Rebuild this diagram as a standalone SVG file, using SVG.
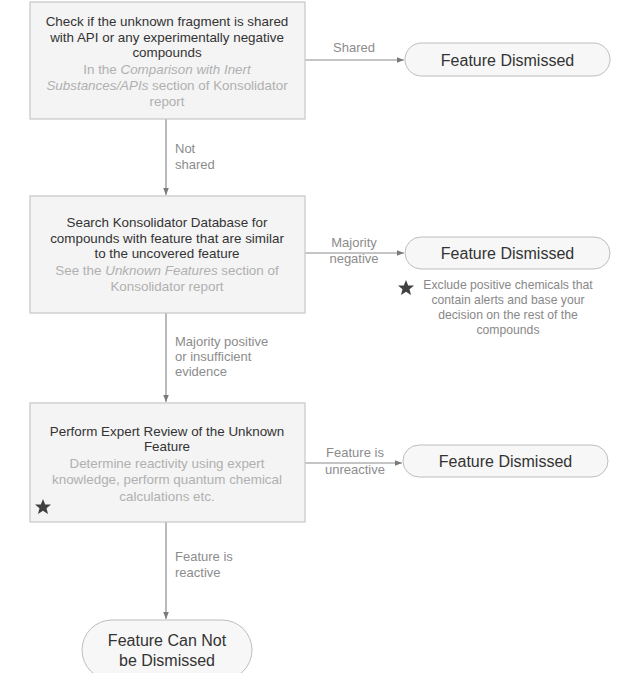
<svg xmlns="http://www.w3.org/2000/svg" width="618" height="673" viewBox="0 0 618 673">
<style>
.box{fill:#f4f4f4;stroke:#c6c6c6;stroke-width:1.2}
.pill{fill:#f7f7f7;stroke:#bdbdbd;stroke-width:1}
.t{font-family:"Liberation Sans",Arial,sans-serif;font-size:13.4px;fill:#333;text-anchor:middle}
.s{font-family:"Liberation Sans",Arial,sans-serif;font-size:13.4px;fill:#b0b0b0;text-anchor:middle}
.p{font-family:"Liberation Sans",Arial,sans-serif;font-size:16px;fill:#333;text-anchor:middle}
.l{font-family:"Liberation Sans",Arial,sans-serif;font-size:13px;fill:#8c8c8c}
.lc{text-anchor:middle}
.n{font-family:"Liberation Sans",Arial,sans-serif;font-size:12.2px;fill:#888;text-anchor:middle}
.c{stroke:#8c8c8c;stroke-width:1.2;fill:none;marker-end:url(#ah)}
.star{fill:#404040}
</style>
<defs>
<marker id="ah" viewBox="0 0 10 10" refX="10" refY="5" markerWidth="7" markerHeight="7" orient="auto" markerUnits="userSpaceOnUse">
<path d="M0,1 L10,5 L0,9 z" fill="#7a7a7a"/>
</marker>
<path id="starShape" d="M0,-8 L2.2,-2.6 L8,-2.5 L3.5,1.2 L5,7 L0,3.8 L-5,7 L-3.5,1.2 L-8,-2.5 L-2.2,-2.6 z"/>
</defs>

<g id="connectors">
<line class="c" x1="305" y1="60" x2="404" y2="60"/>
<line class="c" x1="166" y1="119" x2="166" y2="195"/>
<line class="c" x1="305" y1="253" x2="404" y2="253"/>
<line class="c" x1="166" y1="313" x2="166" y2="402"/>
<line class="c" x1="305" y1="463" x2="402" y2="463"/>
<line class="c" x1="166" y1="522" x2="166" y2="619"/>
<text class="l lc" x="354" y="52">Shared</text>
<text class="l" x="175" y="153">Not</text>
<text class="l" x="175" y="169">shared</text>
<text class="l lc" x="354" y="247">Majority</text>
<text class="l lc" x="354" y="263">negative</text>
<text class="l" x="175" y="346">Majority positive</text>
<text class="l" x="175" y="361">or insufficient</text>
<text class="l" x="175" y="376">evidence</text>
<text class="l lc" x="355" y="457">Feature is</text>
<text class="l lc" x="355" y="474">unreactive</text>
<text class="l" x="175" y="561">Feature is</text>
<text class="l" x="175" y="577">reactive</text>
</g>

<g id="check">
<rect class="box" x="30" y="2" width="275" height="117"/>
<text class="t" x="167" y="26">Check if the unknown fragment is shared</text>
<text class="t" x="167" y="42">with API or any experimentally negative</text>
<text class="t" x="167" y="57">compounds</text>
<text class="s" x="167" y="74">In the <tspan font-style="italic">Comparison with Inert</tspan></text>
<text class="s" x="167" y="90"><tspan font-style="italic">Substances/APIs</tspan> section of Konsolidator</text>
<text class="s" x="167" y="106">report</text>
</g>

<g id="dismissed1">
<rect class="pill" x="405" y="43" width="205" height="33" rx="16.5"/>
<text class="p" x="507.5" y="65.5">Feature Dismissed</text>
</g>

<g id="search">
<rect class="box" x="30" y="196" width="275" height="117"/>
<text class="t" x="167" y="227">Search Konsolidator Database for</text>
<text class="t" x="167" y="243">compounds with feature that are similar</text>
<text class="t" x="167" y="258">to the uncovered feature</text>
<text class="s" x="167" y="275">See the <tspan font-style="italic">Unknown Features</tspan> section of</text>
<text class="s" x="167" y="291">Konsolidator report</text>
</g>

<g id="dismissed2">
<rect class="pill" x="405" y="237" width="205" height="32" rx="16"/>
<text class="p" x="507.5" y="258.5">Feature Dismissed</text>
</g>

<g id="note">
<use href="#starShape" class="star" transform="translate(406,288)"/>
<text class="n" x="508" y="289">Exclude positive chemicals that</text>
<text class="n" x="508" y="304">contain alerts and base your</text>
<text class="n" x="508" y="319">decision on the rest of the</text>
<text class="n" x="508" y="334">compounds</text>
</g>

<g id="review">
<rect class="box" x="30" y="403" width="275" height="119"/>
<text class="t" x="167" y="436">Perform Expert Review of the Unknown</text>
<text class="t" x="167" y="451">Feature</text>
<text class="s" x="167" y="468">Determine reactivity using expert</text>
<text class="s" x="167" y="484">knowledge, perform quantum chemical</text>
<text class="s" x="167" y="501">calculations etc.</text>
<use href="#starShape" class="star" transform="translate(43,507)"/>
</g>

<g id="dismissed3">
<rect class="pill" x="403" y="445" width="205" height="32" rx="16"/>
<text class="p" x="505.5" y="466.5">Feature Dismissed</text>
</g>

<g id="notdismissed">
<rect class="pill" x="82" y="620" width="170" height="60" rx="30"/>
<text class="p" x="167" y="645.5">Feature Can Not</text>
<text class="p" x="167" y="665.5">be Dismissed</text>
</g>
</svg>
